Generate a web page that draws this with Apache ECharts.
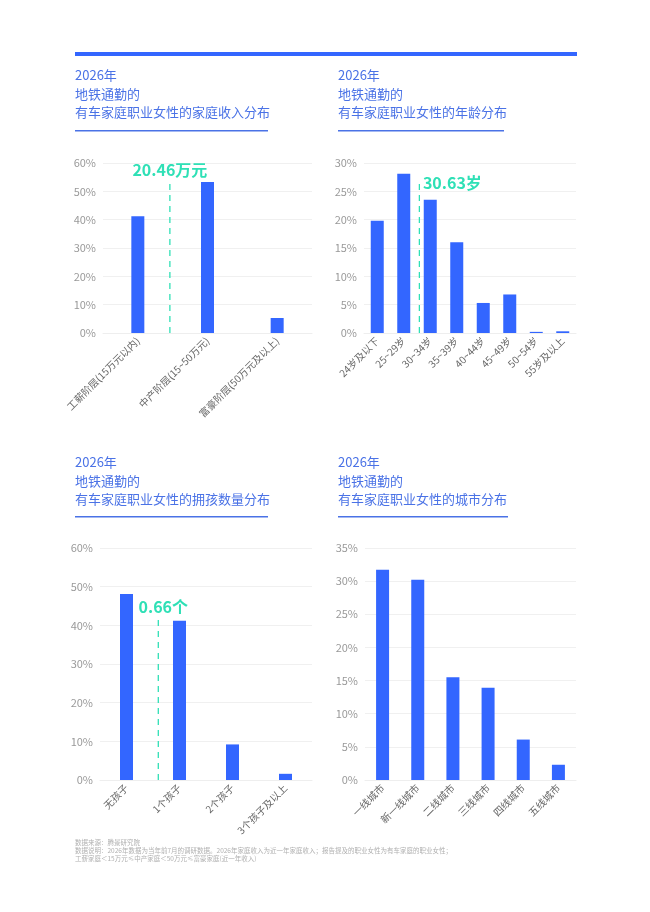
<!DOCTYPE html>
<html lang="zh">
<head>
<meta charset="UTF-8">
<title>有车家庭职业女性</title>
<script src="https://cdn.jsdelivr.net/npm/echarts@6/dist/echarts.min.js"></script>
<style>
html, body { margin: 0; padding: 0; background: #fff; }
</style>
</head>
<body>
<div id="main" style="width: 650px;height:912px;"></div>
<script type="text/javascript">
// chart data
const incomeCats = ['工薪阶层(15万元以内)', '中产阶层(15~50万元)', '富豪阶层(50万元及以上)'];
const incomeVals = [41.2, 53.3, 5.3];
const incomeMean = '20.46万元';

const ageCats = ['24岁及以下', '25~29岁', '30~34岁', '35~39岁', '40~44岁', '45~49岁', '50~54岁', '55岁及以上'];
const ageVals = [19.8, 28.1, 23.5, 16.0, 5.3, 6.8, 0.2, 0.3];
const ageMean = '30.63岁';

const kidCats = ['无孩子', '1个孩子', '2个孩子', '3个孩子及以上'];
const kidVals = [48.1, 41.2, 9.2, 1.6];
const kidMean = '0.66个';

const cityCats = ['一线城市', '新一线城市', '二线城市', '三线城市', '四线城市', '五线城市'];
const cityVals = [31.7, 30.2, 15.5, 13.9, 6.1, 2.3];

// where the dashed average line sits (category index units) and how high it goes (%)
const incomeMeanAt = [0.46, 53];
const ageMeanAt = [1.59, 26.5];
const kidMeanAt = [0.6, 41.9];

const yMax = [60, 30, 60, 35];
const yStep = [10, 5, 10, 5];

const FONT = 'Noto Sans CJK SC';
const BLUE = '#3366ff';
const TITLE_BLUE = '#4a72e6';
const TEAL = '#2fe0b6';

const grids = [
  { left: 103, right: 338, top: 163, bottom: 579 },
  { left: 364, right: 74, top: 163, bottom: 579 },
  { left: 100, right: 338, top: 548, bottom: 132 },
  { left: 365, right: 74, top: 548, bottom: 132 }
];

const titleText = [
  '2026年\n地铁通勤的\n有车家庭职业女性的家庭收入分布',
  '2026年\n地铁通勤的\n有车家庭职业女性的年龄分布',
  '2026年\n地铁通勤的\n有车家庭职业女性的拥孩数量分布',
  '2026年\n地铁通勤的\n有车家庭职业女性的城市分布'
];
const titlePos = [[75, 66], [338, 66], [75, 453], [338, 453]];

const allCats = [incomeCats, ageCats, kidCats, cityCats];
const allVals = [incomeVals, ageVals, kidVals, cityVals];

let xAxes = [];
let yAxes = [];
let series = [];

allCats.forEach((cats, i) => {
  xAxes.push({
    type: 'category',
    gridIndex: i,
    data: cats,
    axisLine: { lineStyle: { color: '#eeeeee' } },
    axisTick: { show: false },
    axisLabel: { rotate: 45, color: '#666', fontSize: 10, fontFamily: FONT, margin: 6, interval: 0 }
  });
  yAxes.push({
    type: 'value',
    gridIndex: i,
    min: 0,
    max: yMax[i],
    interval: yStep[i],
    axisLine: { show: false },
    axisTick: { show: false },
    axisLabel: { formatter: '{value}%', color: '#999', fontSize: 11, fontFamily: FONT, margin: 7 },
    splitLine: { lineStyle: { color: '#f0f0f0' } }
  });
  series.push({
    type: 'bar',
    xAxisIndex: i,
    yAxisIndex: i,
    barWidth: 13,
    itemStyle: { color: BLUE },
    data: allVals[i]
  });
});

// hidden value axes on top of the category axes so the average line can sit between bars
function addMean(gridIdx, at, text, pos, dist, offset) {
  const n = allCats[gridIdx].length;
  const axisIdx = xAxes.length;
  xAxes.push({ type: 'value', gridIndex: gridIdx, min: -0.5, max: n - 0.5, show: false });
  series.push({
    type: 'line',
    xAxisIndex: axisIdx,
    yAxisIndex: gridIdx,
    symbol: 'circle',
    symbolSize: 1,
    showSymbol: true,
    silent: true,
    itemStyle: { color: 'rgba(0,0,0,0)' },
    lineStyle: { color: TEAL, width: 1.3, type: [6, 5] },
    data: [
      [at[0], 0],
      {
        value: [at[0], at[1]],
        label: {
          show: true, position: pos, distance: dist, offset: offset,
          formatter: text, color: TEAL, fontSize: 16, fontWeight: 'bold', fontFamily: FONT
        }
      }
    ]
  });
}
addMean(0, incomeMeanAt, incomeMean, 'top', 4, [0, 0]);
addMean(1, ageMeanAt, ageMean, 'right', 3, [0, 0]);
addMean(2, kidMeanAt, kidMean, 'top', 3, [5, 0]);

let titles = titleText.map((t, i) => ({
  text: t,
  left: titlePos[i][0],
  top: titlePos[i][1],
  padding: 0,
  textStyle: { color: TITLE_BLUE, fontSize: 13, fontWeight: 'normal', fontFamily: FONT, lineHeight: 18.5 }
}));
titles.push({
  text: '数据来源：腾景研究院\n数据说明：2026年数据为当年前7月的调研数据。2026年家庭收入为近一年家庭收入；报告提及的职业女性为有车家庭的职业女性；\n工薪家庭＜15万元≤中产家庭＜50万元≤富豪家庭(近一年收入)',
  left: 75,
  top: 839,
  padding: 0,
  textStyle: { color: '#b0b0b0', fontSize: 6.5, fontWeight: 'normal', fontFamily: FONT, lineHeight: 8 }
});

const options = {
  animation: false,
  title: titles,
  grid: grids,
  xAxis: xAxes,
  yAxis: yAxes,
  series: series,
  graphic: [
    { type: 'rect', shape: { x: 75, y: 52, width: 502, height: 4 }, style: { fill: BLUE } },
    { type: 'rect', shape: { x: 75, y: 130, width: 193, height: 1.5 }, style: { fill: TITLE_BLUE } },
    { type: 'rect', shape: { x: 338, y: 130, width: 166, height: 1.5 }, style: { fill: TITLE_BLUE } },
    { type: 'rect', shape: { x: 75, y: 516, width: 193, height: 1.5 }, style: { fill: TITLE_BLUE } },
    { type: 'rect', shape: { x: 338, y: 516, width: 170, height: 1.5 }, style: { fill: TITLE_BLUE } }
  ]
};

let myChart = echarts.init(document.getElementById('main'));
myChart.setOption(options);
</script>
</body>
</html>
